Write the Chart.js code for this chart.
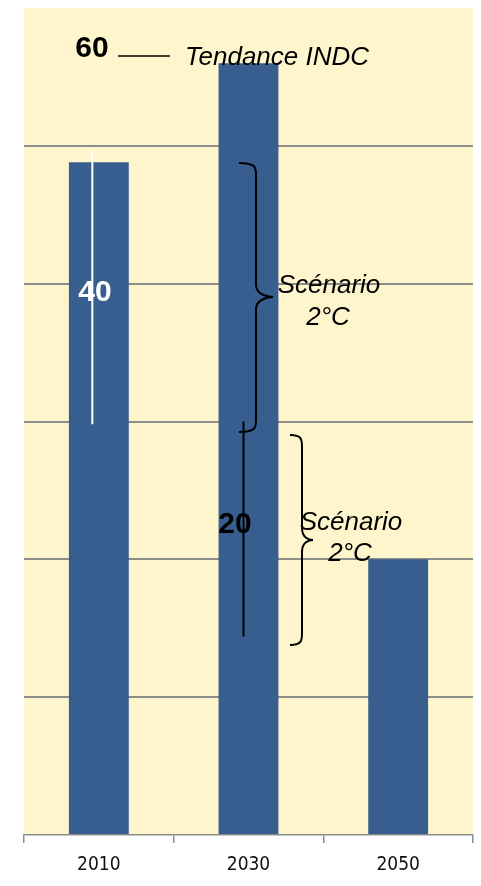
<!DOCTYPE html>
<html>
<head>
<meta charset="utf-8">
<script src="https://cdn.jsdelivr.net/npm/chart.js@4/dist/chart.umd.min.js"></script>
<style>
html,body{margin:0;padding:0;background:#ffffff;}
#wrap{width:481px;height:886px;position:relative;}
</style>
</head>
<body>
<div id="wrap"><canvas id="c"></canvas></div>
<script>
const categories = ['2010', '2030', '2050'];
const emissions = [48.8, 56.0, 20.0];
const yMin = 0;
const yMax = 60;
const yStep = 10;

const CREAM = '#FEF5CD';
const BAR = '#385E8F';
const GRID = '#8C8C88';

const bgPlugin = {
  id: 'bg',
  beforeDraw(chart) {
    const {ctx, chartArea: a} = chart;
    ctx.save();
    ctx.fillStyle = CREAM;
    ctx.fillRect(a.left, a.top, a.right - a.left, a.bottom - a.top);
    ctx.restore();
  }
};

function brace(ctx, x0, xv, xt, yTop, yMid, yBot) {
  const r = 12;
  ctx.beginPath();
  ctx.moveTo(x0, yTop);
  ctx.bezierCurveTo(xv, yTop, xv, yTop + r * 0.4, xv, yTop + r);
  ctx.lineTo(xv, yMid - r);
  ctx.bezierCurveTo(xv, yMid - 2, xt - 4, yMid, xt, yMid);
  ctx.bezierCurveTo(xt - 4, yMid, xv, yMid + 2, xv, yMid + r);
  ctx.lineTo(xv, yBot - r);
  ctx.bezierCurveTo(xv, yBot - r * 0.4, xv, yBot, x0, yBot);
  ctx.stroke();
}

const annotPlugin = {
  id: 'annot',
  afterDatasetsDraw(chart) {
    const {ctx} = chart;
    const y = chart.scales.y;
    const x = chart.scales.x;
    const c0 = x.getPixelForValue(0), c1 = x.getPixelForValue(1);
    ctx.save();
    ctx.strokeStyle = '#ffffff';
    ctx.lineWidth = 2;
    ctx.beginPath();
    ctx.moveTo(c0 - 6.5, y.getPixelForValue(49.6));
    ctx.lineTo(c0 - 6.5, y.getPixelForValue(29.8));
    ctx.stroke();
    ctx.strokeStyle = '#000000';
    ctx.beginPath();
    ctx.moveTo(c1 - 5, y.getPixelForValue(30.0));
    ctx.lineTo(c1 - 5, y.getPixelForValue(14.4));
    ctx.stroke();
    ctx.lineWidth = 1.5;
    ctx.beginPath();
    ctx.moveTo(118, 56);
    ctx.lineTo(170, 56);
    ctx.stroke();
    ctx.lineWidth = 2;
    brace(ctx, 239, 256, 273, 163, 297, 432);
    brace(ctx, 290, 302, 313, 435, 540, 645);

    ctx.textAlign = 'center';
    ctx.textBaseline = 'middle';
    ctx.fillStyle = '#000000';
    ctx.font = 'bold 30px "Liberation Sans", Arial, sans-serif';
    ctx.fillText('60', 92, 49);
    ctx.fillText('20', 235, 525);
    ctx.fillStyle = '#ffffff';
    ctx.fillText('40', 95, 293);

    ctx.fillStyle = '#000000';
    ctx.font = 'italic 26px "Liberation Sans", Arial, sans-serif';
    ctx.textAlign = 'left';
    ctx.fillText('Tendance INDC', 185, 58);
    ctx.textAlign = 'center';
    ctx.fillText('Scénario', 329, 286);
    ctx.fillText('2°C', 328, 318);
    ctx.fillText('Scénario', 351, 523);
    ctx.fillText('2°C', 350, 554);
    ctx.restore();
  }
};

new Chart(document.getElementById('c'), {
  type: 'bar',
  data: {
    labels: categories,
    datasets: [{
      data: emissions,
      backgroundColor: BAR,
      borderWidth: 0,
      barPercentage: 0.8,
      categoryPercentage: 0.5
    }]
  },
  options: {
    responsive: true,
    maintainAspectRatio: false,
    animation: false,
    devicePixelRatio: 1,
    layout: { padding: { left: 24, right: 8, top: 8, bottom: 0 } },
    plugins: { legend: { display: false }, tooltip: { enabled: false } },
    scales: {
      x: {
        offset: true,
        afterFit(scale) { scale.height = 51; },
        border: { display: true, color: GRID, width: 1.5 },
        grid: { offset: true, drawOnChartArea: false, drawTicks: true, tickLength: 8, color: GRID, lineWidth: 1.5 },
        ticks: { color: '#111111', padding: 13, font: { family: '"DejaVu Sans Condensed", sans-serif', size: 19, lineHeight: 1 } }
      },
      y: {
        min: yMin,
        max: yMax,
        border: { display: false },
        ticks: { display: false, stepSize: yStep },
        grid: {
          drawTicks: false,
          lineWidth: 2,
          color: (ctx) => (ctx.tick && (ctx.tick.value === yMin || ctx.tick.value === yMax)) ? 'rgba(0,0,0,0)' : GRID
        }
      }
    }
  },
  plugins: [bgPlugin, annotPlugin]
});
</script>
</body>
</html>
